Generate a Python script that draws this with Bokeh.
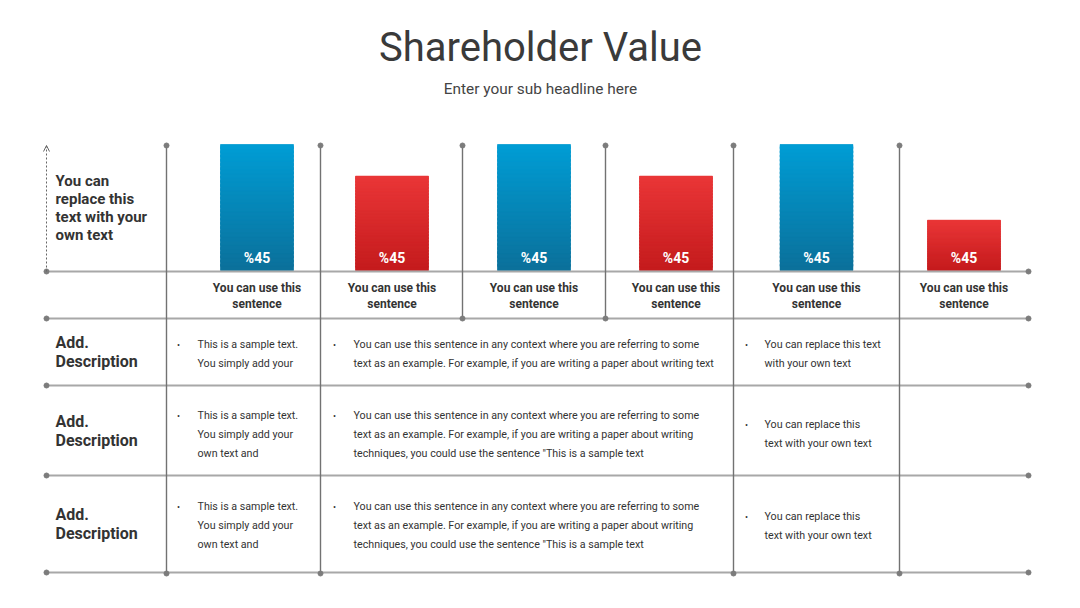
from bokeh.plotting import figure
from bokeh.models import Range1d, Arrow, OpenHead
from bokeh.core.properties import value
from bokeh.embed import file_html
from bokeh.resources import INLINE

# ---------------- data ----------------
title = "Shareholder Value"
subtitle = "Enter your sub headline here"
bar_values = [100, 75, 100, 75, 100, 40]
bar_labels = ["%45", "%45", "%45", "%45", "%45", "%45"]
bar_kinds = ["blue", "red", "blue", "red", "blue", "red"]
category_labels = [["You can use this", "sentence"]] * 6
axis_note = ["You can", "replace this", "text with your", "own text"]
row_titles = [["Add.", "Description"]] * 3
col1_text = [
    ["This is a sample text.", "You simply add your"],
    ["This is a sample text.", "You simply add your", "own text and"],
    ["This is a sample text.", "You simply add your", "own text and"],
]
col2_text = [
    ["You can use this sentence in any context where you are referring to some",
     "text as an example. For example, if you are writing a paper about writing text"],
    ["You can use this sentence in any context where you are referring to some",
     "text as an example. For example, if you are writing a paper about writing",
     "techniques, you could use the sentence \"This is a sample text"],
    ["You can use this sentence in any context where you are referring to some",
     "text as an example. For example, if you are writing a paper about writing",
     "techniques, you could use the sentence \"This is a sample text"],
]
col3_text = [
    ["You can replace this text", "with your own text"],
    ["You can replace this", "text with your own text"],
    ["You can replace this", "text with your own text"],
]

# ---------------- layout (pixels) ----------------
W, H = 1080, 608
BASE_PX = 270.0          # bar baseline
SCALE = 1.26             # pixels per value unit


def Y(py):
    return (BASE_PX - py) / SCALE


FONT = value("Roboto")
DARK = "#333333"
bar_x = [256.5, 391.5, 533.5, 675.5, 816.0, 963.5]
BAR_HALF = 36.5
colors = {"blue": ("#0b719b", "#009cd4"), "red": ("#c51b1d", "#e93637")}

p = figure(width=W, height=H, x_range=Range1d(0, W), y_range=Range1d(Y(H), Y(0)),
           output_backend="svg", toolbar_location=None, min_border=0)
p.axis.visible = False
p.grid.visible = False
p.outline_line_color = None
p.background_fill_color = "white"
p.border_fill_color = "white"


def lerp_hex(c0, c1, t):
    a = [int(c0[i:i + 2], 16) for i in (1, 3, 5)]
    b = [int(c1[i:i + 2], 16) for i in (1, 3, 5)]
    return "#%02x%02x%02x" % tuple(round(a[k] + (b[k] - a[k]) * t) for k in range(3))


# ---------------- bars (base + gradient slices) ----------------
p.vbar(x=bar_x, width=2 * BAR_HALF, bottom=0, top=bar_values,
       fill_color=[lerp_hex(*colors[k], 0.5) for k in bar_kinds], line_color=None)
N = 30
L, R, B, T, C = [], [], [], [], []
for xc, v, kind in zip(bar_x, bar_values, bar_kinds):
    c_bot, c_top = colors[kind]
    for k in range(N):
        b = v * k / N
        t = min(v, v * (k + 1.5) / N)
        L.append(xc - BAR_HALF)
        R.append(xc + BAR_HALF)
        B.append(b)
        T.append(t)
        C.append(lerp_hex(c_bot, c_top, k / (N - 1)))
p.quad(left=L, right=R, bottom=B, top=T, fill_color=C, line_color=C, line_width=0.5)

p.text(x=bar_x, y=[Y(257)] * 6, text=bar_labels, text_font=FONT, text_font_size="14px",
       text_font_style="bold", text_color="white", text_align="center", text_baseline="middle")

# ---------------- grid lines ----------------
VCOL = "#727272"
HCOL = "#a8a8a8"
DOT = "#7c7c7c"
h_lines = [271, 318, 385, 475, 572]
for hy in h_lines:
    p.line([46, 1028], [Y(hy), Y(hy)], line_color=HCOL, line_width=2)
p.scatter([46] * len(h_lines) + [1028] * len(h_lines), [Y(h) for h in h_lines] * 2,
          size=5, color=DOT)

v_full = [166, 320, 733, 899]
v_short = [462, 605]
for vx in v_full:
    p.line([vx, vx], [Y(145), Y(573)], line_color=VCOL, line_width=1.4)
for vx in v_short:
    p.line([vx, vx], [Y(145), Y(318)], line_color=VCOL, line_width=1.4)
p.scatter(v_full + v_short, [Y(145)] * 6, size=5, color=DOT)
p.scatter(v_full + v_short, [Y(573)] * 4 + [Y(318)] * 2, size=5, color=DOT)

# dashed arrow on the left
p.add_layout(Arrow(end=OpenHead(size=6, line_color="#666666", line_width=1),
                   x_start=46, y_start=Y(271), x_end=46, y_end=Y(145),
                   line_color="#666666", line_width=1, line_dash="2 2"))

# ---------------- texts ----------------
p.text(x=[540], y=[Y(47)], text=[title], text_font=FONT, text_font_size="40px",
       text_color="#3a3a3a", text_align="center", text_baseline="middle")
p.text(x=[540], y=[Y(88)], text=[subtitle], text_font=FONT, text_font_size="15.4px",
       text_color="#444444", text_align="center", text_baseline="middle")

p.text(x=[55] * 4, y=[Y(180 + 18 * i) for i in range(4)], text=axis_note, text_font=FONT,
       text_font_size="15px", text_font_style="bold", text_color=DARK,
       text_align="left", text_baseline="middle")

cx, cy, ct = [], [], []
for xc, lines in zip(bar_x, category_labels):
    for i, ln in enumerate(lines):
        cx.append(xc)
        cy.append(Y(287 + 16 * i))
        ct.append(ln)
p.text(x=cx, y=cy, text=ct, text_font=FONT, text_font_size="12px", text_font_style="bold",
       text_color=DARK, text_align="center", text_baseline="middle")

row_title_y = [342, 421, 514]
rx, ry, rt = [], [], []
for y0, lines in zip(row_title_y, row_titles):
    for i, ln in enumerate(lines):
        rx.append(55)
        ry.append(Y(y0 + 19 * i))
        rt.append(ln)
p.text(x=rx, y=ry, text=rt, text_font=FONT, text_font_size="16px", text_font_style="bold",
       text_color=DARK, text_align="left", text_baseline="middle")

bx, by, bt, dx, dy = [], [], [], [], []
cols = [(col1_text, 178, 197, [344, 415, 506]),
        (col2_text, 334, 353, [344, 415, 506]),
        (col3_text, 746, 764, [344, 424, 516])]
for texts, bullet_x, text_x, starts in cols:
    for y0, lines in zip(starts, texts):
        dx.append(bullet_x)
        dy.append(Y(y0))
        for i, ln in enumerate(lines):
            bx.append(text_x)
            by.append(Y(y0 + 19 * i))
            bt.append(ln)
p.text(x=bx, y=by, text=bt, text_font=FONT, text_font_size="10.7px", text_color=DARK,
       text_align="left", text_baseline="middle")
p.text(x=dx, y=dy, text=["•"] * len(dx), text_font=FONT, text_font_size="9px",
       text_color=DARK, text_align="center", text_baseline="middle")

open("out.html", "w").write(file_html(p, INLINE))
